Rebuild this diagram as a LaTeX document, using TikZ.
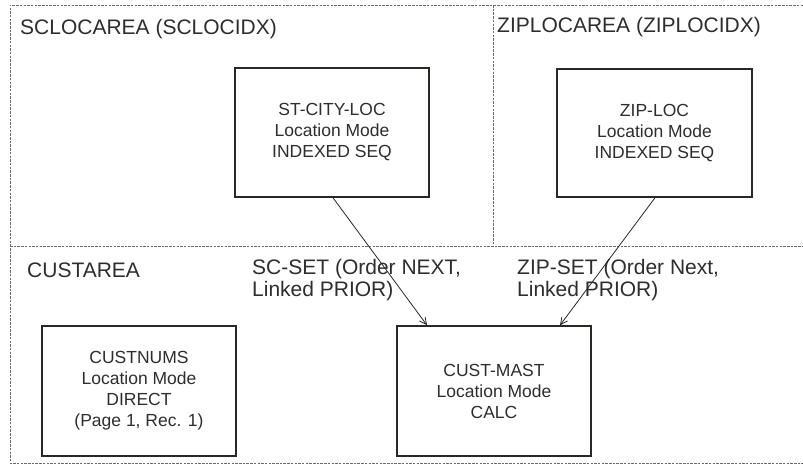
\documentclass[tikz,border=0pt]{standalone}
\usepackage{fontspec}
\setmainfont{Liberation Sans}
\usetikzlibrary{arrows.meta}
\definecolor{ink}{HTML}{2B2723}
\definecolor{txt}{HTML}{2E2E2E}
\definecolor{arealine}{HTML}{6A6A6A}
\tikzset{
  area/.style={draw=arealine, line width=0.8pt, dash pattern=on 2.5pt off 1.2pt},
  areatitle/.style={anchor=west, inner sep=0pt, text=txt, font=\fontsize{21}{25}\selectfont},
  record/.style={draw=ink, line width=1.5pt, fill=white, inner sep=0pt, text=txt,
    align=center, font=\fontsize{17.5}{21}\selectfont},
  setlabel/.style={anchor=north west, inner sep=0pt, text=txt, align=left,
    font=\fontsize{21}{22.5}\selectfont},
  setlink/.style={draw=ink, line width=0.8pt, -{Straight Barb[length=7pt, width=7pt]}}
}
\begin{document}
\begin{tikzpicture}[x=1pt, y=-1pt]
\useasboundingbox (0,0) rectangle (803,467);
\fill[white] (0,0) rectangle (803,467);

% area boundaries
\draw[area] (803,5) -- (10,5) -- (10,463) -- (803,463);
\draw[area] (10,246) -- (803,246);
\draw[area] (493,5) -- (493,246);

% area titles
\node[areatitle] (sclocarea) at (20,29) {SCLOCAREA (SCLOCIDX)};
\node[areatitle] (ziplocarea) at (497,27) {ZIPLOCAREA (ZIPLOCIDX)};
\node[areatitle] (custarea) at (27,270) {CUSTAREA};

% records
\node[record, minimum width=194pt, minimum height=129pt] (stcity) at (332,132.5)
  {ST-CITY-LOC\\Location Mode\\INDEXED SEQ};
\node[record, minimum width=195pt, minimum height=128pt] (ziploc) at (654.5,133)
  {ZIP-LOC\\Location Mode\\INDEXED SEQ};
\node[record, minimum width=194pt, minimum height=130pt] (custnums) at (139,391)
  {CUSTNUMS\\Location Mode\\DIRECT\\(Page 1, Rec. 1)};
\node[record, minimum width=194pt, minimum height=130pt] (custmast) at (494,391)
  {CUST-MAST\\Location Mode\\CALC};

% set labels
\node[setlabel] (scset) at (252,259) {SC-SET (Order NEXT,\\Linked PRIOR)};
\node[setlabel] (zipset) at (517,259) {ZIP-SET (Order Next,\\Linked PRIOR)};

% set connectors
\coordinate (scfrom) at ([xshift=1pt]stcity.south);
\coordinate (scto) at ([xshift=-67pt]custmast.north);
\coordinate (zipfrom) at ([xshift=0.5pt]ziploc.south);
\coordinate (zipto) at ([xshift=66pt]custmast.north);
\draw[setlink] (scfrom) -- (scto);
\draw[setlink] (zipfrom) -- (zipto);
\end{tikzpicture}
\end{document}
